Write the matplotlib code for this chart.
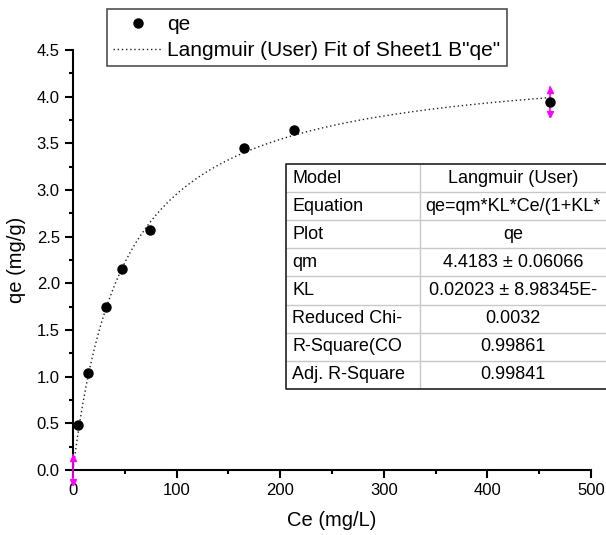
import numpy as np
import matplotlib
matplotlib.use("Agg")
import matplotlib.pyplot as plt
from matplotlib.ticker import FormatStrFormatter

plt.rcParams["font.family"] = ["Liberation Sans", "DejaVu Sans"]

# данные изотермы
ce = [4.8, 14.5, 31.9, 47.3, 74.3, 165, 213, 460]
qe = [0.48, 1.04, 1.75, 2.15, 2.57, 3.45, 3.64, 3.94]

qm = 4.4183
kl = 0.02023

# строки таблицы (как в исходнике, обрезаны по ширине ячейки)
table_keys = ["Model", "Equation", "Plot", "qm", "KL",
              "Reduced Chi-", "R-Square(CO", "Adj. R-Square"]
table_vals = ["Langmuir (User)", "qe=qm*KL*Ce/(1+KL*", "qe",
              "4.4183 \u00b1 0.06066", "0.02023 \u00b1 8.98345E-",
              "0.0032", "0.99861", "0.99841"]

W, H = 606, 535
fig = plt.figure(figsize=(W / 100, H / 100), dpi=100)
ax = fig.add_axes([73 / W, 1 - 470 / H, (591 - 73) / W, (470 - 50) / H])

ce_fit = np.linspace(0, 460, 300)
qe_fit = qm * kl * ce_fit / (1 + kl * ce_fit)
fit_line, = ax.plot(ce_fit, qe_fit, color="#202020", linestyle=(0, (1, 2)),
                    linewidth=1)
pts, = ax.plot(ce, qe, "o", color="black", markersize=6.5, zorder=5)

# маркеры диапазона подгонки
for x0, y0 in [(0, 0), (ce[-1], qe[-1])]:
    ax.plot([x0, x0], [y0 - 0.16, y0 + 0.16], color="magenta", linewidth=1.2,
            clip_on=False, zorder=4)
    ax.plot([x0], [y0 + 0.13], marker="^", color="magenta", markersize=4.5,
            clip_on=False, zorder=4)
    ax.plot([x0], [y0 - 0.13], marker="v", color="magenta", markersize=4.5,
            clip_on=False, zorder=4)

ax.set_xlim(0, 500)
ax.set_ylim(0, 4.5)
ax.set_xticks([0, 100, 200, 300, 400, 500])
ax.set_xticks([50, 150, 250, 350, 450], minor=True)
ax.set_yticks(np.arange(0, 4.51, 0.5))
ax.set_yticks(np.arange(0.25, 4.5, 0.5), minor=True)
ax.yaxis.set_major_formatter(FormatStrFormatter("%.1f"))
for side in ["top", "right"]:
    ax.spines[side].set_visible(False)
for side in ["left", "bottom"]:
    ax.spines[side].set_linewidth(1.5)
ax.tick_params(which="major", direction="out", length=6, width=1.5,
               labelsize=12)
ax.tick_params(which="minor", direction="out", length=3, width=1.5)
ax.set_xlabel("Ce (mg/L)", fontsize=14.5, labelpad=9)
ax.set_ylabel("qe (mg/g)", fontsize=14.5, labelpad=8)

leg = fig.legend([pts, fit_line], ["qe", "Langmuir (User) Fit of Sheet1 B\"qe\""],
                 loc="upper left", bbox_to_anchor=(107 / W, 1 - 9 / H),
                 fontsize=15, fancybox=False, edgecolor="#505050",
                 framealpha=1, handlelength=2.4, borderpad=0.3,
                 labelspacing=0.32, handletextpad=0.2, borderaxespad=0)
leg.get_frame().set_linewidth(1.2)

# таблица параметров в отдельных осях, координаты в пикселях
x_left, x_mid, x_right = 286, 420, 640
y_top, y_bot = 164, 389
row_h = (y_bot - y_top) / len(table_keys)
tab = fig.add_axes([x_left / W, 1 - y_bot / H, (x_right - x_left) / W,
                    (y_bot - y_top) / H], zorder=3)
tab.set_xlim(x_left, x_right)
tab.set_ylim(y_bot, y_top)
tab.axis("off")
tab.patch.set_visible(True)
tab.patch.set_facecolor("white")
for i, (k, v) in enumerate(zip(table_keys, table_vals)):
    yc = y_top + (i + 0.5) * row_h
    if i > 0:
        tab.plot([x_left, x_right], [y_top + i * row_h] * 2,
                 color="#c8c8c8", linewidth=1)
    tab.text(x_left + 6, yc, k, fontsize=13, ha="left", va="center")
    tab.text(513, yc, v, fontsize=13, ha="center", va="center")
tab.plot([x_mid, x_mid], [y_top, y_bot], color="#c8c8c8", linewidth=1)
tab.plot([x_right, x_left, x_left, x_right], [y_top, y_top, y_bot, y_bot],
         color="#202020", linewidth=1.2, clip_on=False)

fig.savefig("out.png", dpi=100)
